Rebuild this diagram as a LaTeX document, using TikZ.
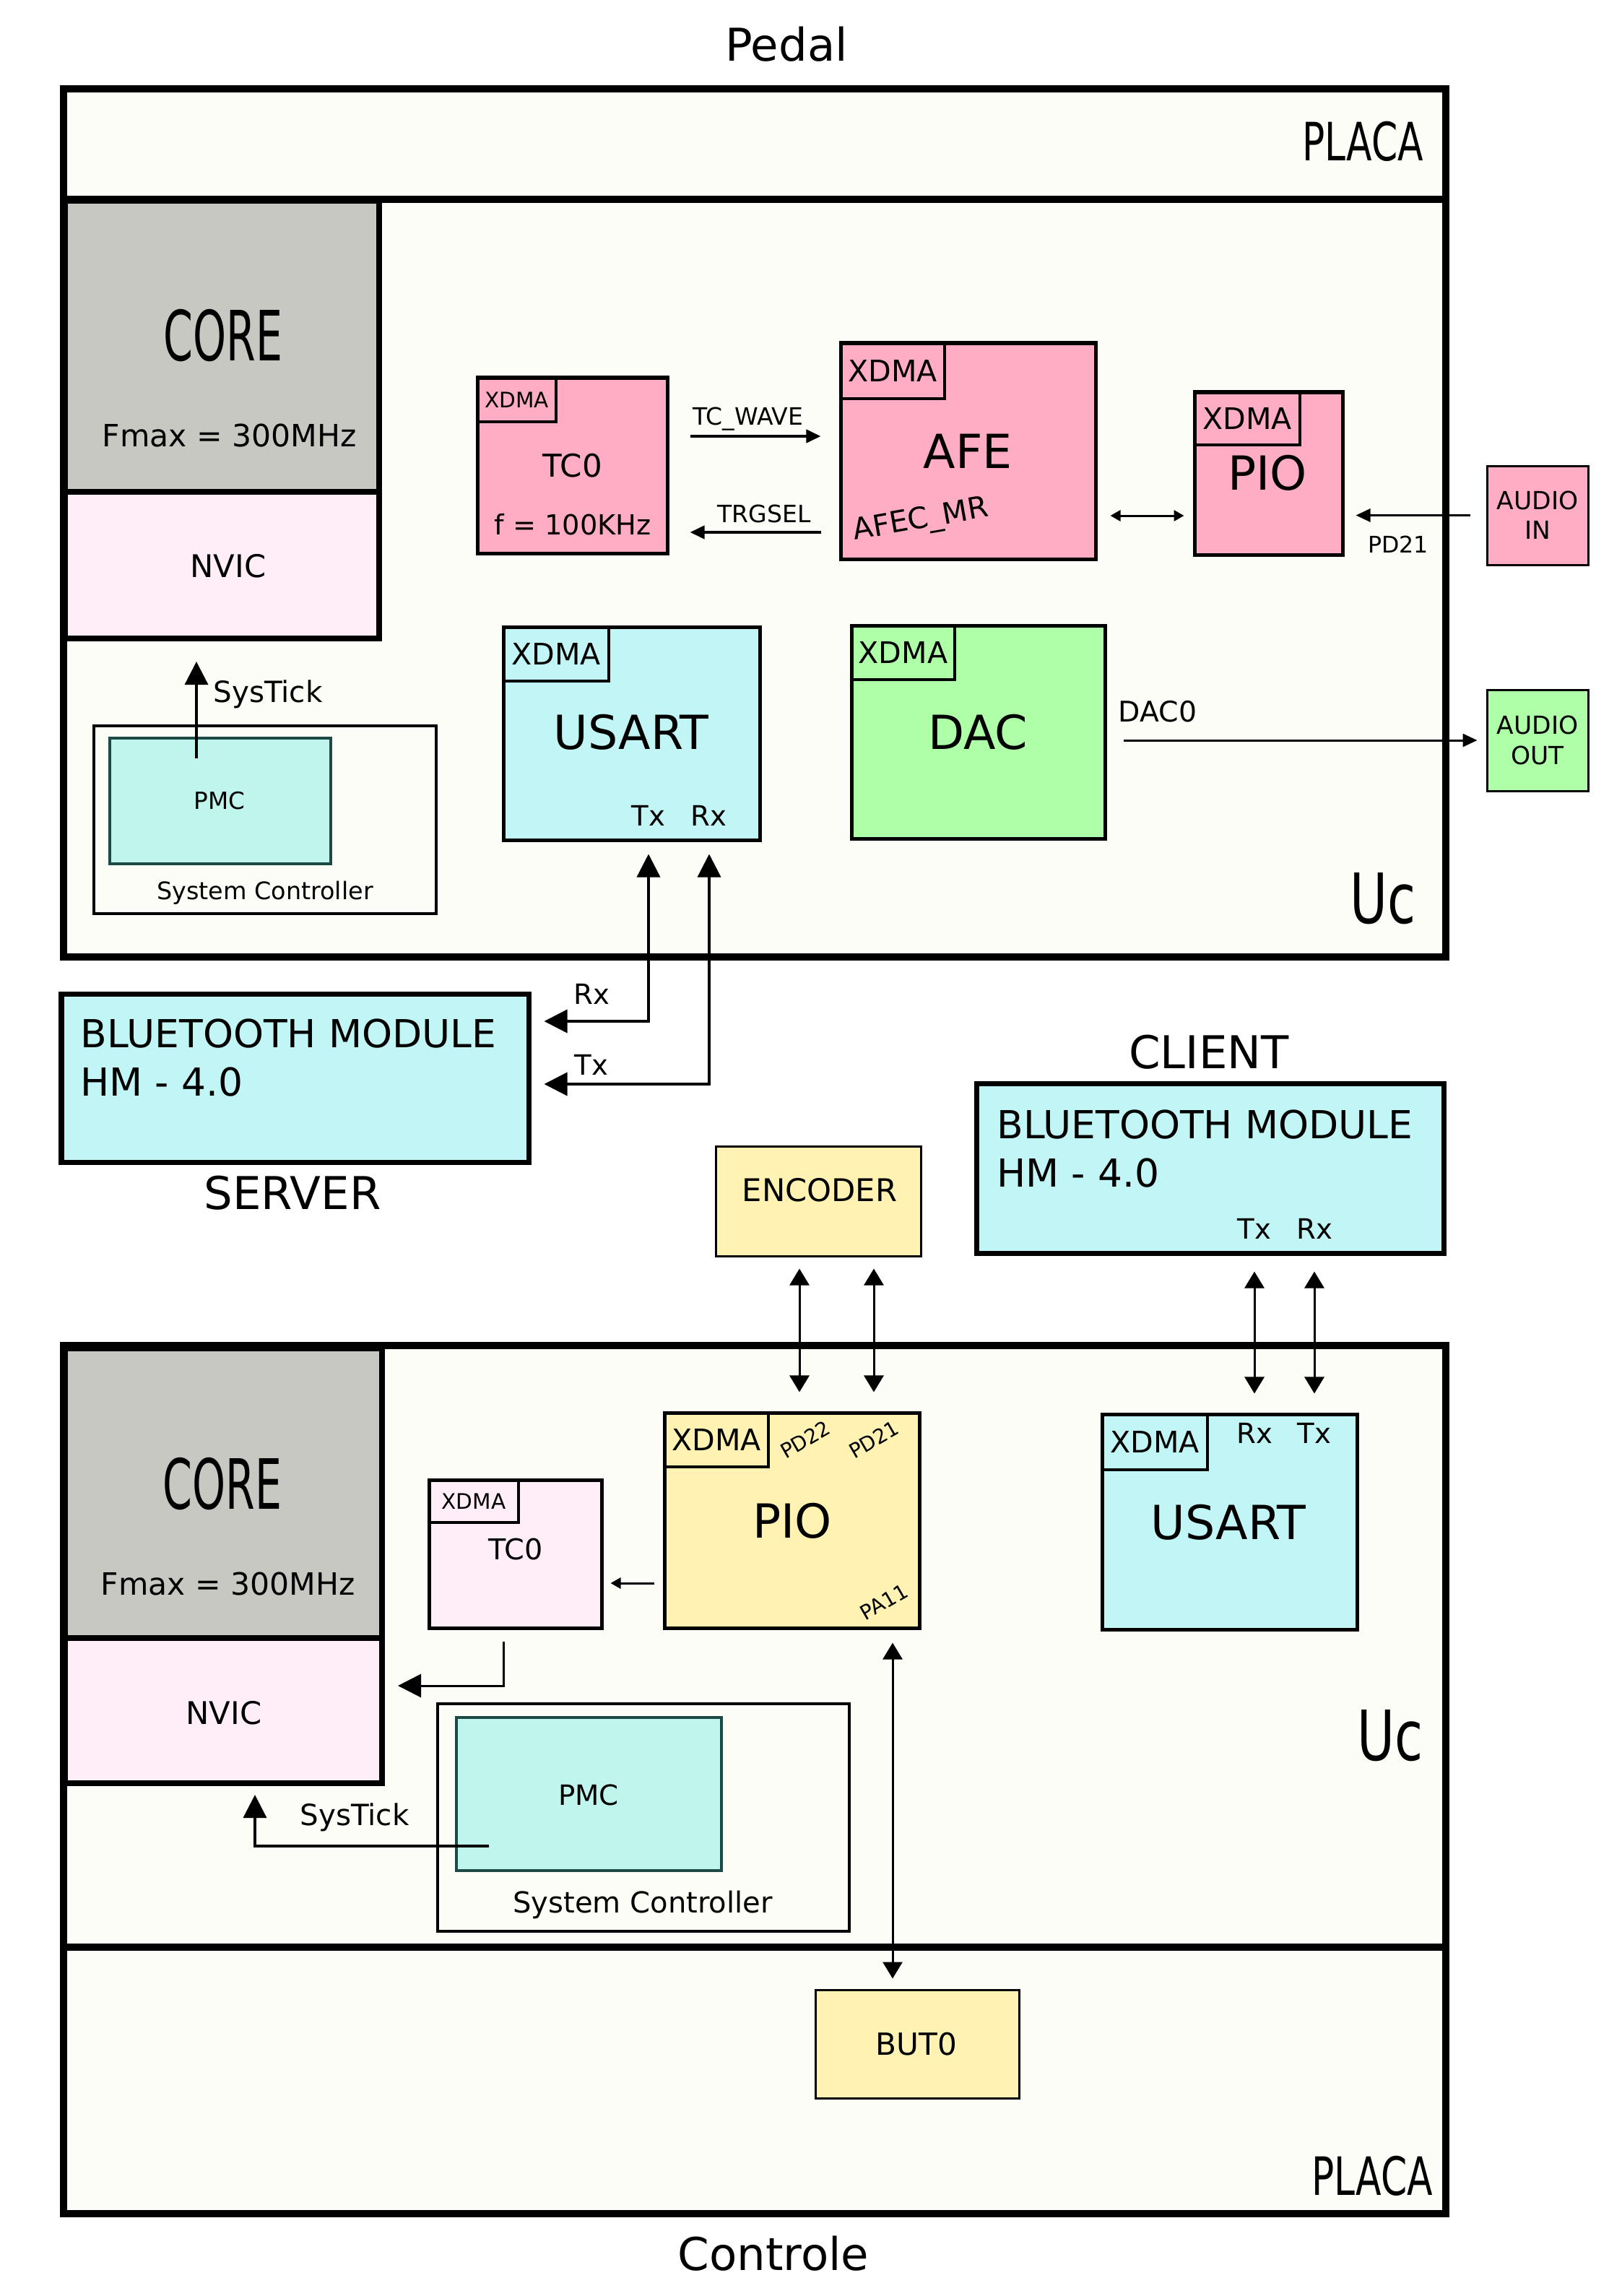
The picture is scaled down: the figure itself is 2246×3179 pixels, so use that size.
\documentclass[tikz,border=0pt]{standalone}
\usepackage{fontspec}
\setmainfont{DejaVu Sans}
\usepackage{graphicx}
\usetikzlibrary{fit,arrows.meta,calc}
\definecolor{cream}{HTML}{FDFDF7}
\definecolor{coregray}{HTML}{C8C8C2}
\definecolor{nvicpk}{HTML}{FFEEF8}
\definecolor{pkA}{HTML}{FFADC5}
\definecolor{cyA}{HTML}{C2F5F5}
\definecolor{pmcfill}{HTML}{C0F5EE}
\definecolor{pmcline}{HTML}{1E4A45}
\definecolor{grA}{HTML}{AEFFA8}
\definecolor{yeA}{HTML}{FFF2B2}
\newcommand{\fsz}[1]{\fontsize{#1}{1.2\dimexpr#1\relax}\selectfont}
\newcommand{\bx}[6]{\node[fit={(#2,#3) (#4,#5)}, inner sep=0pt, #6] (#1) {};}
\begin{document}
\begin{tikzpicture}[x=0.01cm,y=-0.01cm,
  frame/.style={draw, line width=0.1cm, fill=cream},
  corebox/.style={draw, line width=0.08cm, fill=coregray},
  nvicbox/.style={draw, line width=0.08cm, fill=nvicpk},
  blk/.style={draw, line width=0.05cm},
  xdma/.style={draw, line width=0.04cm},
  thinbox/.style={draw, line width=0.03cm},
  pmcbox/.style={draw=pmcline, line width=0.035cm, fill=pmcfill},
  btbox/.style={draw, line width=0.07cm, fill=cyA},
  conn/.style={line width=0.03cm},
  bigtip/.style={-{Triangle[length=0.32cm,width=0.32cm]}},
  bigboth/.style={{Triangle[length=0.32cm,width=0.32cm]}-{Triangle[length=0.32cm,width=0.32cm]}},
  medboth/.style={{Triangle[length=0.23cm,width=0.27cm]}-{Triangle[length=0.23cm,width=0.27cm]}},
  midtip/.style={-{Triangle[length=0.2cm,width=0.18cm]}},
  smltip/.style={-{Triangle[length=0.14cm,width=0.15cm]}},
  smlboth/.style={{Triangle[length=0.14cm,width=0.15cm]}-{Triangle[length=0.14cm,width=0.15cm]}},
  lbl/.style={inner sep=0pt}
]
\useasboundingbox (0,0) rectangle (2246,3179);
\fill[white] (0,0) rectangle (2246,3179);

% ================= PEDAL =================
\node[lbl, font=\fsz{17.8pt}] (tPedal) at (1089,61) {Pedal};
\bx{placaA}{88}{123}{2002}{1325}{frame}
\draw[line width=0.1cm] (placaA.west |- 0,276) -- (placaA.east |- 0,276);
\node[lbl, anchor=base east, font=\fsz{20.8pt}] (tPlacaA) at (1972,223) {\scalebox{0.71}[1]{PLACA}};
\node[lbl, anchor=base east, font=\fsz{27.3pt}] (tUcA) at (1961,1278) {\scalebox{0.74}[1]{Uc}};

\bx{coreA}{90}{278}{525}{681}{corebox}
\bx{nvicA}{90}{681}{525}{884}{nvicbox}
\node[lbl, font=\fsz{27.3pt}] (tCoreA) at (309,465) {\scalebox{0.61}[1]{CORE}};
\node[lbl, font=\fsz{12.1pt}] (tFmaxA) at (318,603) {Fmax = 300MHz};
\node[lbl, font=\fsz{12.3pt}] (tNvicA) at (316,784) {NVIC};

\bx{scA}{130}{1005}{604}{1265}{draw, line width=0.04cm, fill=cream}
\bx{pmcA}{152}{1022}{458}{1196}{pmcbox}
\node[lbl, font=\fsz{9.3pt}] (tPmcA) at (304,1109) {PMC};
\node[lbl, font=\fsz{9.5pt}] (tScA) at (367,1236) {System Controller};
\coordinate (stA) at (272,1050);
\draw[conn, line width=0.035cm, bigtip, shorten >=0.28cm] (stA) -- (stA |- nvicA.south);
\node[lbl, font=\fsz{11.5pt}] (tStA) at (371,961) {SysTick};

\bx{tcA}{661}{523}{924}{766}{blk, fill=pkA}
\bx{tcAx}{661}{523}{770}{584}{xdma}
\node[lbl, font=\fsz{8.4pt}] (tTcAx) at (tcAx.center) {XDMA};
\node[lbl, font=\fsz{12.4pt}] (tTcA) at (793,645) {TC0};
\node[lbl, font=\fsz{10.9pt}] (tFreq) at (793,726) {f = 100KHz};

\bx{afeA}{1164}{475}{1517}{774}{blk, fill=pkA}
\bx{afeAx}{1164}{475}{1308}{552}{xdma}
\node[lbl, font=\fsz{11.7pt}] (tAfeAx) at (afeAx.center) {XDMA};
\node[lbl, font=\fsz{18.5pt}] (tAfe) at (1340,625) {AFE};
\node[lbl, anchor=base west, rotate=10, font=\fsz{11.6pt}] (tAfec) at (1183,748) {AFEC\_MR};

\draw[conn, line width=0.04cm, midtip, shorten <=0.29cm, shorten >=0.25cm] (tcA.east |- 0,604) -- (afeA.west |- 0,604);
\node[lbl, font=\fsz{9.4pt}] (tTcw) at (1036,580) {TC\_WAVE};
\draw[conn, line width=0.04cm, midtip, shorten <=0.25cm, shorten >=0.29cm] (afeA.west |- 0,737) -- (tcA.east |- 0,737);
\node[lbl, font=\fsz{9.4pt}] (tTrg) at (1058,711) {TRGSEL};

\bx{pioA}{1654}{543}{1859}{768}{blk, fill=pkA}
\bx{pioAx}{1654}{543}{1800}{616}{xdma}
\node[lbl, font=\fsz{11.7pt}] (tPioAx) at (pioAx.center) {XDMA};
\node[lbl, font=\fsz{18.5pt}] (tPioA) at (1755,655) {PIO};
\draw[conn, smlboth, shorten <=0.18cm, shorten >=0.12cm] (afeA.east |- 0,714) -- (pioA.west |- 0,714);

\bx{ainA}{2059}{645}{2199}{782}{thinbox, fill=pkA}
\node[lbl, align=center, font=\fsz{9.8pt}] (tAin) at (ainA.center) {AUDIO\\IN};
\draw[conn, midtip, shorten <=0.22cm, shorten >=0.16cm] (ainA.west) -- (pioA.east |- ainA.west);
\node[lbl, font=\fsz{9pt}] (tPd21A) at (1936,754) {PD21};

\bx{usA}{697}{868}{1052}{1163}{blk, fill=cyA}
\bx{usAx}{697}{868}{843}{943}{xdma}
\node[lbl, font=\fsz{11.7pt}] (tUsAx) at (usAx.center) {XDMA};
\node[lbl, font=\fsz{18.5pt}] (tUsA) at (874,1014) {USART};
\node[lbl, font=\fsz{11pt}] (tUsATx) at (898,1129) {Tx};
\node[lbl, font=\fsz{11pt}] (tUsARx) at (981,1129) {Rx};

\bx{dacA}{1179}{866}{1530}{1161}{blk, fill=grA}
\bx{dacAx}{1179}{866}{1322}{941}{xdma}
\node[lbl, font=\fsz{11.7pt}] (tDacAx) at (dacAx.center) {XDMA};
\node[lbl, font=\fsz{18.5pt}] (tDac) at (1354,1014) {DAC};

\bx{aoutA}{2059}{955}{2199}{1095}{thinbox, fill=grA}
\node[lbl, align=center, font=\fsz{9.8pt}] (tAout) at (aoutA.center) {AUDIO\\OUT};
\draw[conn, midtip, shorten <=0.23cm, shorten >=0.12cm] (dacA.east |- aoutA.west) -- (aoutA.west);
\node[lbl, font=\fsz{11.2pt}] (tDac0) at (1603,985) {DAC0};

% ================= BLUETOOTH =================
\bx{bts}{85}{1376}{732}{1609}{btbox}
\node[lbl, anchor=west, font=\fsz{15.2pt}] (tBts1) at (111,1431) {BLUETOOTH MODULE};
\node[lbl, anchor=west, font=\fsz{15.2pt}] (tBts2) at (111,1498) {HM - 4.0};
\node[lbl, font=\fsz{17.8pt}] (tServer) at (405,1652) {SERVER};
\draw[conn, line width=0.035cm, bigboth, shorten <=0.18cm, shorten >=0.17cm] (bts.east |- 0,1414) -| (usA.south -| 898,0);
\draw[conn, line width=0.035cm, bigboth, shorten <=0.18cm, shorten >=0.17cm] (bts.east |- 0,1501) -| (usA.south -| 982,0);
\node[lbl, font=\fsz{11pt}] (tRxS) at (819,1376) {Rx};
\node[lbl, font=\fsz{11pt}] (tTxS) at (819,1474) {Tx};

\node[lbl, font=\fsz{17.8pt}] (tClient) at (1674,1457) {CLIENT};
\bx{btc}{1352}{1500}{1999}{1735}{btbox}
\node[lbl, anchor=west, font=\fsz{15.2pt}] (tBtc1) at (1380,1557) {BLUETOOTH MODULE};
\node[lbl, anchor=west, font=\fsz{15.2pt}] (tBtc2) at (1380,1624) {HM - 4.0};
\node[lbl, font=\fsz{11pt}] (tBtcTx) at (1737,1701) {Tx};
\node[lbl, font=\fsz{11pt}] (tBtcRx) at (1820,1701) {Rx};

\bx{enc}{991}{1587}{1275}{1739}{thinbox, fill=yeA}
\node[lbl, font=\fsz{12.3pt}] (tEnc) at (1135,1648) {ENCODER};

% ================= CONTROLE =================
\bx{placaB}{88}{1863}{2002}{3065}{frame}
\draw[line width=0.1cm] (placaB.west |- 0,2696) -- (placaB.east |- 0,2696);
\node[lbl, anchor=base east, font=\fsz{20.8pt}] (tPlacaB) at (1985,3039) {\scalebox{0.71}[1]{PLACA}};
\node[lbl, anchor=base east, font=\fsz{27.3pt}] (tUcB) at (1971,2437) {\scalebox{0.74}[1]{Uc}};
\node[lbl, font=\fsz{17.8pt}] (tControle) at (1071,3120) {Controle};

\bx{coreB}{90}{1867}{529}{2268}{corebox}
\bx{nvicB}{90}{2268}{529}{2469}{nvicbox}
\node[lbl, font=\fsz{27.3pt}] (tCoreB) at (308,2055) {\scalebox{0.61}[1]{CORE}};
\node[lbl, font=\fsz{12.1pt}] (tFmaxB) at (316,2193) {Fmax = 300MHz};
\node[lbl, font=\fsz{12.3pt}] (tNvicB) at (310,2372) {NVIC};

\bx{tcB}{594}{2049}{833}{2254}{blk, fill=nvicpk}
\bx{tcBx}{594}{2049}{718}{2108}{xdma}
\node[lbl, font=\fsz{8.4pt}] (tTcBx) at (tcBx.center) {XDMA};
\node[lbl, font=\fsz{11.3pt}] (tTcB) at (714,2145) {TC0};

\bx{pioB}{920}{1956}{1273}{2254}{blk, fill=yeA}
\bx{pioBx}{920}{1956}{1064}{2031}{xdma}
\node[lbl, font=\fsz{11.7pt}] (tPioBx) at (pioBx.center) {XDMA};
\node[lbl, font=\fsz{18.5pt}] (tPioB) at (1097,2106) {PIO};
\node[lbl, rotate=30, font=\fsz{8pt}] (tPd22) at (1115,1993) {PD22};
\node[lbl, rotate=30, font=\fsz{8pt}] (tPd21B) at (1210,1993) {PD21};
\node[lbl, rotate=30, font=\fsz{8pt}] (tPa11) at (1224,2218) {PA11};

\draw[conn, smltip, shorten <=0.12cm, shorten >=0.1cm] (pioB.west |- 0,2192) -- (tcB.east |- 0,2192);
\draw[conn, bigtip, shorten <=0.16cm, shorten >=0.18cm] (tcB.south -| 697,0) |- (nvicB.east |- 0,2334);

\bx{scB}{606}{2359}{1176}{2674}{draw, line width=0.045cm, fill=cream}
\bx{pmcB}{632}{2378}{999}{2590}{pmcbox}
\node[lbl, font=\fsz{11pt}] (tPmcB) at (815,2485) {PMC};
\node[lbl, font=\fsz{11.4pt}] (tScB) at (890,2637) {System Controller};
\coordinate (stB) at (677,2556);
\draw[conn, line width=0.035cm, bigtip, shorten >=0.12cm] (stB) -| (nvicB.south -| 353,0);
\node[lbl, font=\fsz{11.5pt}] (tStB) at (491,2516) {SysTick};

\bx{usB}{1526}{1958}{1879}{2256}{blk, fill=cyA}
\bx{usBx}{1526}{1958}{1672}{2035}{xdma}
\node[lbl, font=\fsz{11.7pt}] (tUsBx) at (usBx.center) {XDMA};
\node[lbl, font=\fsz{18.5pt}] (tUsB) at (1701,2108) {USART};
\node[lbl, font=\fsz{11pt}] (tUsBRx) at (1737,1984) {Rx};
\node[lbl, font=\fsz{11pt}] (tUsBTx) at (1820,1984) {Tx};

\draw[conn, medboth, shorten <=0.22cm, shorten >=0.26cm] (btc.south -| 1737,0) -- (usB.north -| 1737,0);
\draw[conn, medboth, shorten <=0.22cm, shorten >=0.26cm] (btc.south -| 1820,0) -- (usB.north -| 1820,0);
\draw[conn, medboth, shorten <=0.16cm, shorten >=0.26cm] (enc.south -| 1107,0) -- (pioB.north -| 1107,0);
\draw[conn, medboth, shorten <=0.16cm, shorten >=0.26cm] (enc.south -| 1210,0) -- (pioB.north -| 1210,0);

\bx{but}{1129}{2755}{1411}{2905}{thinbox, fill=yeA}
\node[lbl, font=\fsz{12pt}] (tBut) at (1269,2830) {BUT0};
\draw[conn, medboth, shorten <=0.18cm, shorten >=0.14cm] (pioB.south -| 1236,0) -- (but.north -| 1236,0);
\end{tikzpicture}
\end{document}
